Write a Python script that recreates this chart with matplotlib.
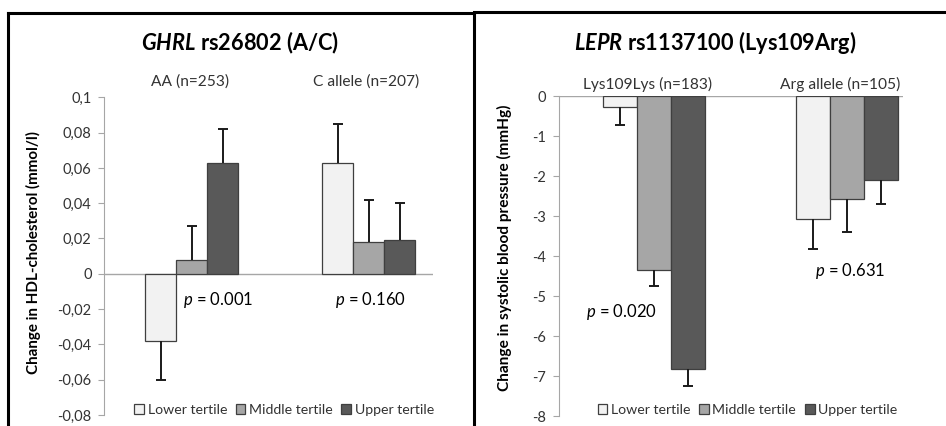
import matplotlib
matplotlib.use("Agg")
import matplotlib.pyplot as plt
from matplotlib.lines import Line2D
from matplotlib.patches import Patch
import numpy as np

plt.rcParams['font.family'] = ['Lato', 'DejaVu Sans']
plt.rcParams['mathtext.fontset'] = 'custom'
plt.rcParams['mathtext.rm'] = 'Lato'
plt.rcParams['mathtext.it'] = 'Lato:italic'
plt.rcParams['mathtext.bf'] = 'Lato:italic:bold'

# data
tertiles = ["Lower tertile", "Middle tertile", "Upper tertile"]
colors = ["#f2f2f2", "#a6a6a6", "#595959"]

hdl_groups = ["AA (n=253)", "C allele (n=207)"]
hdl_means = [[-0.038, 0.063], [0.008, 0.018], [0.063, 0.019]]
hdl_se = [[0.022, 0.022], [0.019, 0.024], [0.019, 0.021]]
hdl_p = ["0.001", "0.160"]
hdl_ticks = [0.1, 0.08, 0.06, 0.04, 0.02, 0, -0.02, -0.04, -0.06, -0.08]
hdl_ticklabels = ["0,1", "0,08", "0,06", "0,04", "0,02", "0", "-0,02", "-0,04", "-0,06", "-0,08"]

sbp_groups = ["Lys109Lys (n=183)", "Arg allele (n=105)"]
sbp_means = [[-0.27, -3.07], [-4.33, -2.57], [-6.81, -2.08]]
sbp_se = [[0.45, 0.74], [0.40, 0.82], [0.44, 0.61]]
sbp_p = ["0.020", "0.631"]
sbp_ticks = [0, -1, -2, -3, -4, -5, -6, -7, -8]
sbp_ticklabels = ["0", "-1", "-2", "-3", "-4", "-5", "-6", "-7", "-8"]

W, H = 946, 426
fig = plt.figure(figsize=(W / 100, H / 100), dpi=100)


def fx(x):
    return x / W


def fy(y):
    return 1 - y / H


def draw_panel(rect, means, ses, ticks, ticklabels, ylim, xlim, width):
    ax = fig.add_axes(rect)
    x = np.arange(2)
    for i in range(3):
        m = np.array(means[i])
        s = np.array(ses[i])
        pos = x + (i - 1) * width
        ax.bar(pos, m, width, color=colors[i], edgecolor="#3f3f3f", linewidth=0.9, zorder=2)
        # one-sided error bars, away from zero
        tip = m + np.sign(m) * s
        ax.vlines(pos, m, tip, color="#1a1a1a", linewidth=1.4, zorder=3)
        ax.plot(pos, tip, linestyle="none", marker="_", markersize=7, mew=1.4,
                color="#1a1a1a", zorder=3)
    ax.axhline(0, color="#a6a6a6", linewidth=1.0, zorder=1)
    ax.set_ylim(*ylim)
    ax.set_xlim(*xlim)
    ax.set_yticks(ticks)
    ax.set_yticklabels(ticklabels, fontsize=10.5, color="#333333")
    ax.set_xticks([])
    for side in ["top", "right", "bottom"]:
        ax.spines[side].set_visible(False)
    ax.spines["left"].set_color("#a6a6a6")
    ax.tick_params(axis="y", color="#a6a6a6", length=4, pad=5)
    ax.patch.set_alpha(0)
    return ax


# left panel: HDL
ax1 = draw_panel([fx(104), 1 - 415 / H, 328.7 / W, 317.7 / H], hdl_means, hdl_se,
                 hdl_ticks, hdl_ticklabels, (-0.08, 0.1), (-0.496, 1.36), 0.175)
# right panel: SBP
ax2 = draw_panel([fx(558.7), 1 - 416.3 / H, 344.3 / W, 320 / H], sbp_means, sbp_se,
                 sbp_ticks, sbp_ticklabels, (-8, 0), (-0.495, 1.288), 0.176)


def title(cx, cy, gene, rest):
    fig.text(fx(cx), fy(cy), r"$\bf{" + gene + "}$" + rest, fontsize=15.7, fontweight="bold",
             ha="center", va="center", color="black")


title(240, 43, "GHRL", " rs26802 (A/C)")
title(715, 43, "LEPR", " rs1137100 (Lys109Arg)")

# group labels
for cx, cy, lab in [(190, 82, hdl_groups[0]), (366, 82, hdl_groups[1]),
                    (648, 84, sbp_groups[0]), (840, 84, sbp_groups[1])]:
    fig.text(fx(cx), fy(cy), lab, fontsize=11.2, ha="center", va="center", color="#333333")

# p values
for x0, cy, p in [(183, 300, hdl_p[0]), (335, 300, hdl_p[1]),
                  (586, 312, sbp_p[0]), (815, 271, sbp_p[1])]:
    fig.text(fx(x0), fy(cy), r"$\it{p}$ = " + p, fontsize=12, ha="left", va="center",
             color="black")

# y labels
fig.text(fx(33), fy(253), "Change in HDL-cholesterol (mmol/l)", rotation=90, fontsize=10.9,
         fontweight="bold", ha="center", va="center")
fig.text(fx(504), fy(248), "Change in systolic blood pressure (mmHg)", rotation=90,
         fontsize=11.1, fontweight="bold", ha="center", va="center")

# legends
handles = [Patch(facecolor=c, edgecolor="#3f3f3f", linewidth=0.9) for c in colors]
for cx in [284, 747.5]:
    fig.legend(handles, tertiles, loc="center", bbox_to_anchor=(fx(cx), fy(410)), ncol=3,
               frameon=False, fontsize=10.2, handlelength=0.7, handleheight=0.7,
               handletextpad=0.25, columnspacing=0.6, labelcolor="#333333")

# panel borders
fig.add_artist(Line2D([fx(8), fx(8)], [fy(12.5), 0], color="black", linewidth=2.2))
fig.add_artist(Line2D([fx(8), fx(473.5)], [fy(12.5), fy(12.5)], color="black", linewidth=2.2))
fig.add_artist(Line2D([fx(473.5), fx(473.5)], [fy(12.5), 0], color="black", linewidth=2.2))
fig.add_artist(Line2D([fx(473.5), 1], [fy(11.5), fy(11.5)], color="black", linewidth=2.2))

fig.savefig("out.png", dpi=100)
